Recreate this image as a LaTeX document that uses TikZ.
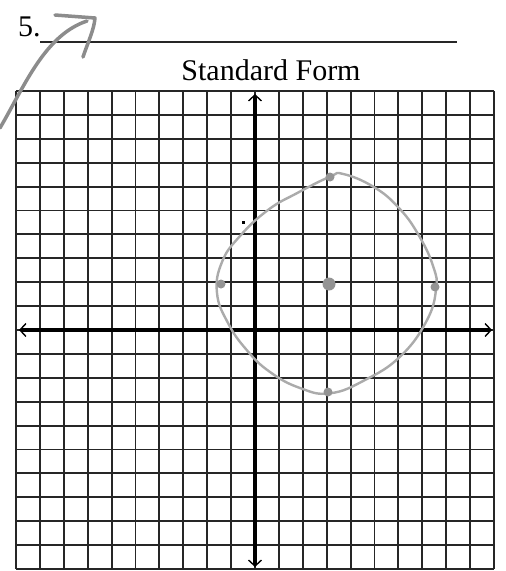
\documentclass[tikz,border=0pt]{standalone}
\usepackage{fontspec}
\setmainfont{Liberation Serif}
\usetikzlibrary{arrows.meta}
\begin{document}
\begin{tikzpicture}[x=1pt,y=-1pt,
  gridline/.style={line width=1.9pt,black!85},
  axisline/.style={line width=3.2pt,black,{Straight Barb[length=6pt,width=13pt,line width=1.4pt]}-{Straight Barb[length=6pt,width=13pt,line width=1.4pt]}},
  pencil/.style={line width=2.4pt,black!33,line cap=round,line join=round},
  pencildot/.style={circle,fill=black!42,inner sep=0pt,minimum size=#1},
  heavypencil/.style={line width=3.5pt,black!45,line cap=round,line join=round},
  label/.style={font=\fontsize{30}{36}\selectfont,inner sep=0pt,anchor=base west}]
\useasboundingbox (0,0) rectangle (506,571);
\fill[white] (0,0) rectangle (506,571);
% grid
\foreach \i in {0,...,20}{
  \draw[gridline] ({16+23.9*\i},91) -- ({16+23.9*\i},569);
  \draw[gridline] (16,{91+23.9*\i}) -- (494,{91+23.9*\i});
}
% axes
\coordinate (ytop) at (255,94);
\coordinate (ybot) at (255,567);
\coordinate (xleft) at (19,330);
\coordinate (xright) at (492,330);
\draw[axisline] (ybot) -- (ytop);
\draw[axisline] (xleft) -- (xright);
% header
\node[label] (num) at (18,36) {5.};
\coordinate (lineL) at (40,42);
\coordinate (lineR) at (457,42);
\draw[line width=1.4pt,black!85] (lineL) -- (lineR);
\node[font=\fontsize{30}{36}\selectfont,inner sep=0pt,anchor=base] (title) at (271,80) {Standard Form};
% hand-drawn arrow
\coordinate (a0) at (0,128);
\coordinate (a1) at (87,21);
\draw[heavypencil] (a0) .. controls (25,85) and (45,35) .. (a1);
\coordinate (h0) at (55,15);
\coordinate (h1) at (95,18);
\coordinate (h2) at (83,57);
\draw[heavypencil] (h0) -- (h1) .. controls (94,30) and (88,42) .. (h2);
% circle (pencil)
\draw[pencil] plot[smooth cycle,tension=0.75] coordinates {
 (343.3,174) (373.3,186.7) (398,207) (418,234)
 (433.3,266.7) (436,290) (426,322) (400,356.7)
 (365,380) (330,393.3) (300,388) (270,372)
 (246.7,350) (228,323) (217,293)
 (222,262) (240,236) (268,210)
 (296.7,193.3) (330,176.7)};
\node[pencildot=13pt] (center) at (329,284) {};
\node[pencildot=9pt] (ptop) at (330,177) {};
\node[pencildot=9pt] (pbot) at (328,392) {};
\node[pencildot=9pt] (pleft) at (221,284) {};
\node[pencildot=9pt] (pright) at (435,287) {};
\fill[black] (241.5,221) rectangle (244.5,223.5);
\end{tikzpicture}
\end{document}
